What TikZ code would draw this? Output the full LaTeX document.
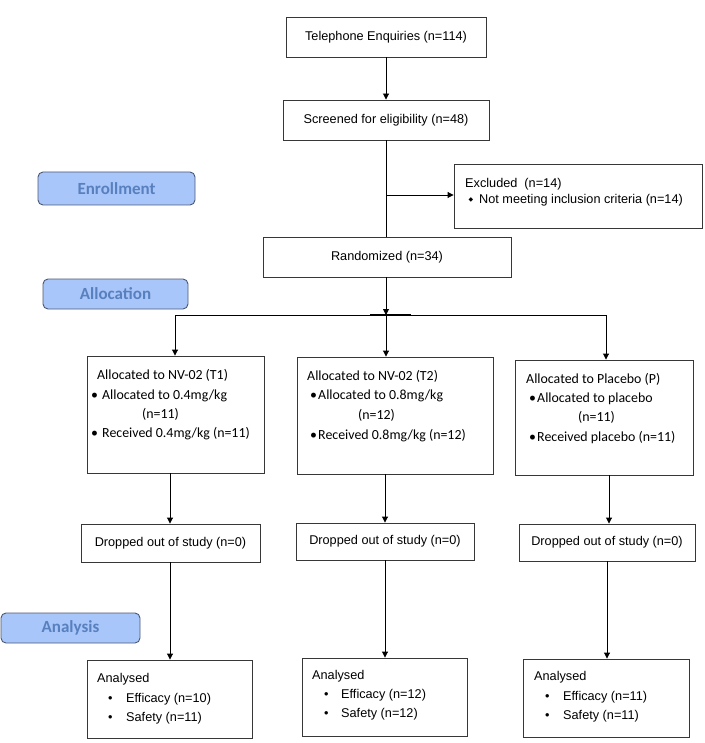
\documentclass[tikz,border=0pt]{standalone}
\usepackage{fontspec}
\setmainfont{Liberation Sans}
\newfontfamily\calibri{Carlito}
\newfontfamily\dejavu{DejaVu Sans}
\usetikzlibrary{arrows.meta}
\definecolor{stagefill}{RGB}{168,198,250}
\definecolor{stagetext}{RGB}{88,128,190}
\definecolor{stageline}{RGB}{75,88,115}
\definecolor{boxline}{RGB}{55,55,55}
\begin{document}
\begin{tikzpicture}[x=1pt,y=-1pt,
  ar/.style={font=\fontsize{12.7}{15}\selectfont},
  ca/.style={font=\calibri\fontsize{13.9}{16}\selectfont},
  box/.style={draw=boxline, line width=0.9pt, inner sep=0pt, fill=white, ar},
  lbl/.style={inner sep=0pt, anchor=base west},
  conn/.style={line width=0.9pt, draw=black},
  arr/.style={conn, -{Triangle[length=6pt,width=6pt]}},
  stage/.style={draw=stageline, fill=stagefill, rounded corners=5pt, line width=0.9pt,
    inner sep=0pt, text=stagetext, font=\calibri\bfseries\fontsize{17}{20}\selectfont}]
\useasboundingbox (0,0) rectangle (704,743);

% stage labels
\node[stage, minimum width=157pt, minimum height=33pt] (enr) at (116.5,188.5) {Enrollment};
\node[stage, minimum width=145pt, minimum height=30pt] (alc) at (115.5,294) {Allocation};
\node[stage, minimum width=139pt, minimum height=30pt] (ana) at (70.5,628) {Analysis};

% top boxes
\node[box, minimum width=200pt, minimum height=40pt] (tel) at (386,37) {Telephone Enquiries (n=114)};
\node[box, minimum width=206pt, minimum height=40pt] (scr) at (386,120) {Screened for eligibility (n=48)};
\node[box, minimum width=248pt, minimum height=64pt] (excl) at (578,196) {};
\node[lbl, ar] (exa) at (465,187.2) {Excluded\ \ (n=14)};
\node[lbl, font=\dejavu\fontsize{6}{6}\selectfont] (exb) at (468.5,201.5) {◆};
\node[lbl, ar] (exc) at (479,203.5) {Not meeting inclusion criteria (n=14)};
\node[box, minimum width=248pt, minimum height=40pt] (rand) at (387,257) {Randomized (n=34)};

% allocation boxes
\node[box, minimum width=177pt, minimum height=117pt] (t1) at (175.5,414.5) {};
\node[box, minimum width=196pt, minimum height=117pt] (t2) at (395,415.5) {};
\node[box, minimum width=178pt, minimum height=115pt] (p) at (604,417.5) {};

\node[lbl, ca] (t1a) at (97,379.5) {Allocated to NV-02 (T1)};
\node[lbl, ca] (t1b) at (91,399.5) {\textbullet};
\node[lbl, ca] (t1c) at (102,399.5) {Allocated to 0.4mg/kg};
\node[lbl, ca] (t1d) at (142,418.5) {(n=11)};
\node[lbl, ca] (t1e) at (91,437.5) {\textbullet};
\node[lbl, ca] (t1f) at (102,437.5) {Received 0.4mg/kg (n=11)};

\node[lbl, ca] (t2a) at (307,380.5) {Allocated to NV-02 (T2)};
\node[lbl, ca] (t2b) at (310,399.5) {\textbullet};
\node[lbl, ca] (t2c) at (318,399.5) {Allocated to 0.8mg/kg};
\node[lbl, ca] (t2d) at (358,419.5) {(n=12)};
\node[lbl, ca] (t2e) at (310,439.5) {\textbullet};
\node[lbl, ca] (t2f) at (318,439.5) {Received 0.8mg/kg (n=12)};

\node[lbl, ca] (pa) at (526,383.5) {Allocated to Placebo (P)};
\node[lbl, ca] (pb) at (529,402.5) {\textbullet};
\node[lbl, ca] (pc) at (537,402.5) {Allocated to placebo};
\node[lbl, ca] (pd) at (578,421.5) {(n=11)};
\node[lbl, ca] (pe) at (529,441.5) {\textbullet};
\node[lbl, ca] (pf) at (537,441.5) {Received placebo (n=11)};

% dropped boxes
\node[box, minimum width=179pt, minimum height=38pt] (d1) at (170.5,543) {Dropped out of study (n=0)};
\node[box, minimum width=178pt, minimum height=37pt] (d2) at (385,541.5) {Dropped out of study (n=0)};
\node[box, minimum width=176pt, minimum height=37pt] (d3) at (607,542.5) {Dropped out of study (n=0)};

% analysed boxes
\node[box, minimum width=165pt, minimum height=78pt] (a1) at (169.5,699) {};
\node[box, minimum width=165pt, minimum height=78pt] (a2) at (384.5,697) {};
\node[box, minimum width=166pt, minimum height=78pt] (a3) at (606,698) {};

\node[lbl, ar] (a1a) at (97,682.5) {Analysed};
\node[lbl, ar] (a1b) at (108,702.5) {•};
\node[lbl, ar] (a1c) at (126,702.5) {Efficacy (n=10)};
\node[lbl, ar] (a1d) at (108,721.5) {•};
\node[lbl, ar] (a1e) at (126,721.5) {Safety (n=11)};

\node[lbl, ar] (a2a) at (312,679.5) {Analysed};
\node[lbl, ar] (a2b) at (324,698.5) {•};
\node[lbl, ar] (a2c) at (341,698.5) {Efficacy (n=12)};
\node[lbl, ar] (a2d) at (324,717.5) {•};
\node[lbl, ar] (a2e) at (341,717.5) {Safety (n=12)};

\node[lbl, ar] (a3a) at (534,680.5) {Analysed};
\node[lbl, ar] (a3b) at (545,700.5) {•};
\node[lbl, ar] (a3c) at (563,700.5) {Efficacy (n=11)};
\node[lbl, ar] (a3d) at (545,719.5) {•};
\node[lbl, ar] (a3e) at (563,719.5) {Safety (n=11)};

% connectors
\coordinate (spine) at (386,0);
\draw[arr] (tel.south -| spine) -- (scr.north -| spine);
\draw[conn] (scr.south -| spine) -- (rand.north -| spine);
\coordinate (exj) at (386,195);
\draw[arr] (exj) -- (exj -| excl.west);
\coordinate (split) at (386,315);
\coordinate (sl) at (175,315);
\coordinate (sr) at (606,315);
\coordinate (thk1) at (370,315);
\coordinate (thk2) at (411,315);
\draw[arr] (rand.south -| spine) -- (split);
\draw[conn] (sl) -- (sr);
\draw[line width=2pt] (thk1) -- (thk2);
\draw[arr] (sl) -- (sl |- t1.north);
\draw[arr] (split) -- (split |- t2.north);
\draw[arr] (sr) -- (sr |- p.north);

\coordinate (c1) at (170,0);
\coordinate (c2) at (385,0);
\coordinate (c3) at (609,0);
\coordinate (e3) at (607,0);
\draw[arr] (t1.south -| c1) -- (d1.north -| c1);
\draw[arr] (t2.south -| c2) -- (d2.north -| c2);
\draw[arr] (p.south -| c3) -- (d3.north -| c3);
\draw[arr] (d1.south -| c1) -- (a1.north -| c1);
\draw[arr] (d2.south -| c2) -- (a2.north -| c2);
\draw[arr] (d3.south -| e3) -- (a3.north -| e3);
\end{tikzpicture}
\end{document}
